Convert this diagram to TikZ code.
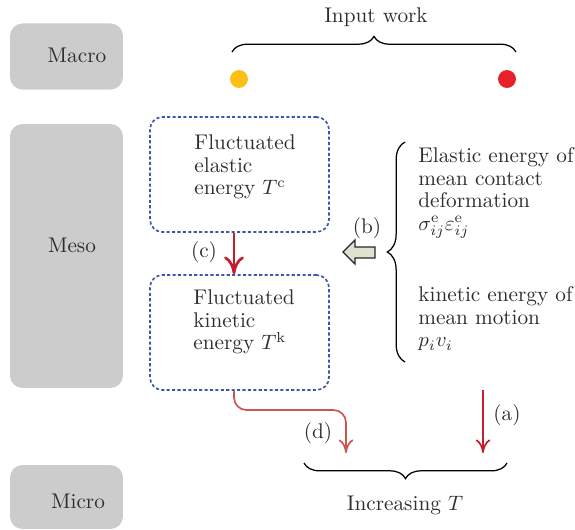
\documentclass[tikz,border=0pt]{standalone}
\usetikzlibrary{arrows.meta,decorations.pathreplacing,calc}
\definecolor{txt}{HTML}{2E2E2E}
\definecolor{scalebox}{HTML}{CCCCCC}
\definecolor{dotblue}{HTML}{3A57A8}
\definecolor{redA}{HTML}{C41E2E}
\definecolor{redD}{HTML}{CC5552}
\definecolor{dotorange}{HTML}{FBBF16}
\definecolor{dotred}{HTML}{E8202A}
\definecolor{blockfill}{HTML}{DEE3CF}
\tikzset{
  scalebox/.style={fill=scalebox, rounded corners=6pt, inner sep=0pt},
  energybox/.style={draw=dotblue, line width=0.8pt, dash pattern=on 1.5pt off 1.1pt,
    rounded corners=6pt, inner sep=0pt},
  lbl/.style={text=txt, font=\fontsize{10.2}{10.8}\selectfont, inner sep=0pt},
  multi/.style={lbl, align=left},
  bracestyle/.style={draw=black, line width=0.6pt, decorate,
    decoration={brace, amplitude=7.5pt}},
  tipbig/.style={-{Computer Modern Rightarrow[length=8.5pt,width=9.5pt,line width=1.3pt]}},
  tipsmall/.style={-{Computer Modern Rightarrow[length=6.5pt,width=7pt,line width=0.8pt]}},
}
\begin{document}
\begin{tikzpicture}[x=0.48pt,y=-0.48pt]
\useasboundingbox (0,0) rectangle (575,530);

% scale boxes on the left
\node[scalebox, minimum width=54.2pt, minimum height=31.7pt] (macro) at (66.5,56.5) {};
\node[scalebox, minimum width=54.2pt, minimum height=126.7pt] (meso) at (66.5,256) {};
\node[scalebox, minimum width=54.2pt, minimum height=30.7pt] (micro) at (66.5,497) {};
\node[lbl] (macrot) at (77,55) {Macro};
\node[lbl] (mesot) at (72,245) {Meso};
\node[lbl] (microt) at (78,501) {Micro};

% input work
\node[lbl] (input) at (376,17) {Input work};
\coordinate (ibl) at (232,52);
\coordinate (ibr) at (516,52);
\draw[bracestyle] (ibl) -- (ibr);
\node[circle, fill=dotorange, minimum size=8.6pt, inner sep=0pt] (dotA) at (239,79) {};
\node[circle, fill=dotred, minimum size=8.6pt, inner sep=0pt] (dotB) at (507,79) {};

% fluctuating energies
\node[energybox, minimum width=85.9pt, minimum height=55.2pt] (b1) at (239.5,174.5) {};
\node[energybox, minimum width=85.9pt, minimum height=55.2pt] (b2) at (239.5,332.5) {};
\node[multi, anchor=west] (t1) at (194,167) {Fluctuated\\elastic\\energy $T^{\mathrm{c}}$};
\node[multi, anchor=west] (t2) at (193,322) {Fluctuated\\kinetic\\energy $T^{\mathrm{k}}$};

% (c)
\draw[redA, line width=1.4pt, tipbig] ([xshift=-2.64pt]b1.south) -- ([xshift=-2.64pt]b2.north);
\node[lbl] (lc) at (204,252) {(c)};

% mean energies
\node[multi, anchor=west] (m1) at (418,193) {Elastic energy of\\mean contact\\deformation\\$\sigma^{\mathrm{e}}_{ij}\varepsilon^{\mathrm{e}}_{ij}$};
\node[multi, anchor=west] (m2) at (418,319) {kinetic energy of\\mean motion\\$p_i v_i$};
\coordinate (rbt) at (405,142);
\coordinate (rbb) at (405,362);
\draw[bracestyle, decoration={amplitude=8.5pt}] (rbb) -- (rbt);

% (b) block arrow
\draw[fill=blockfill, draw=black!85, line width=0.6pt, line join=miter]
  (343,252) -- (355,240) -- (355,247) -- (375,247) -- (375,258) -- (355,258) -- (355,264) -- cycle;
\node[lbl] (lb) at (367,228) {(b)};

% (d)
\coordinate (dend) at (346,453);
\draw[redD, line width=0.8pt, rounded corners=6pt, tipsmall]
  ([xshift=-2.64pt]b2.south) |- (dend |- 0,410) -- (dend);
\node[lbl] (ld) at (318,433) {(d)};

% (a)
\coordinate (astart) at (483,390);
\coordinate (aend) at (483,453);
\draw[redA, line width=0.8pt, tipsmall] (astart) -- (aend);
\node[lbl] (la) at (507,415) {(a)};

% increasing T
\coordinate (bbl) at (304,463);
\coordinate (bbr) at (507,463);
\draw[bracestyle, decoration={mirror}] (bbl) -- (bbr);
\node[lbl] (inc) at (405,505) {Increasing $T$};
\end{tikzpicture}
\end{document}
